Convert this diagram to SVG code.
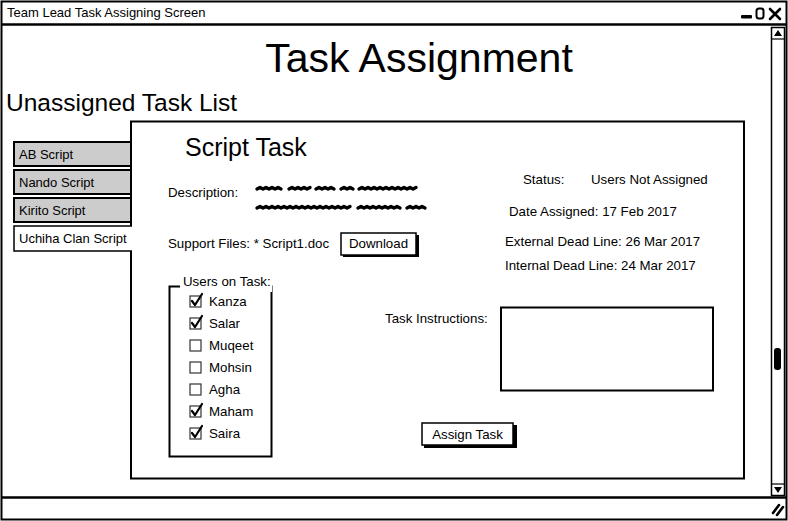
<svg xmlns="http://www.w3.org/2000/svg" width="788" height="521" viewBox="0 0 788 521">
<style>
text{font-family:"Liberation Sans","DejaVu Sans",sans-serif;fill:#000}
.t13{font-size:13px}
.t12{font-size:13.3px}
.ln{fill:none;stroke:#000;stroke-width:2}
.tab{fill:#cccccc;stroke:#000;stroke-width:2}
.cb{fill:#fff;stroke:#333;stroke-width:1.2}
.ck{fill:none;stroke:#000;stroke-width:2.2;stroke-linecap:round;stroke-linejoin:round}
.sq{fill:none;stroke:#000;stroke-width:3.4;stroke-linecap:round;stroke-linejoin:round}
</style>
<rect x="0" y="0" width="788" height="521" fill="#fff"/>
<g id="window">
<rect x="1.5" y="1.5" width="785" height="518" class="ln"/>
<line x1="1" y1="24.5" x2="787" y2="24.5" stroke="#000" stroke-width="2.5"/>
<text x="7" y="17" class="t13">Team Lead Task Assigning Screen</text>
<rect x="741" y="15" width="11" height="3.5" fill="#000" rx="1"/>
<rect x="756.5" y="8.5" width="7" height="10" rx="2.5" fill="none" stroke="#000" stroke-width="2"/>
<path d="M770 9 L780 19 M780 9 L770 19" stroke="#000" stroke-width="2.6" stroke-linecap="round"/>
<line x1="1" y1="497.5" x2="787" y2="497.5" stroke="#000" stroke-width="2.5"/>
<path d="M773 513 L779 505 M777 515 L783 507" stroke="#000" stroke-width="2.6" stroke-linecap="round"/>
</g>
<g id="scrollbar">
<rect x="771.5" y="27.5" width="13" height="468" fill="#fff" stroke="#000" stroke-width="1.5"/>
<line x1="771.5" y1="39" x2="784.5" y2="39" stroke="#000" stroke-width="1.2"/>
<path d="M774 36 L778 30 L782 36 Z" fill="#000"/>
<line x1="771.5" y1="484" x2="784.5" y2="484" stroke="#000" stroke-width="1.2"/>
<path d="M774 487 L778 493 L782 487 Z" fill="#000"/>
<rect x="774" y="348" width="7" height="22" rx="3" fill="#000"/>
</g>
<g id="headings">
<text x="419" y="72" text-anchor="middle" style="font-size:41px">Task Assignment</text>
<text x="6" y="111" style="font-size:24.5px">Unassigned Task List</text>
</g>
<g id="tabs">
<rect x="14" y="142" width="118" height="24" class="tab"/>
<text x="19" y="159" class="t13">AB Script</text>
<rect x="14" y="170" width="118" height="24" class="tab"/>
<text x="19" y="187" class="t13">Nando Script</text>
<rect x="14" y="198" width="118" height="24" class="tab"/>
<text x="19" y="215" class="t13">Kirito Script</text>
</g>
<g id="panel">
<rect x="131" y="121.5" width="613" height="357" fill="#fff" stroke="#000" stroke-width="2"/>
</g>
<g id="tab-selected">
<path d="M132 226 L14 226 L14 251 L132 251" fill="#fff" stroke="#000" stroke-width="1.5"/>
<rect x="130" y="227" width="3" height="23" fill="#fff"/>
<text x="19" y="243" class="t13">Uchiha Clan Script</text>
</g>
<g id="details">
<text x="185" y="156" style="font-size:25px">Script Task</text>
<text x="168" y="197" class="t12">Description:</text>
<path class="sq" d="M257 189 l3 -1.5 l3 1.5 l3 -1.5 l3 1.5 l3 -1.5 l3 1.5 l3 -1.5 l3 1.5
M289 189 l3 -1.5 l3 1.5 l3 -1.5 l3 1.5 l3 -1.5 l3 1.5 l3 -1.5
M316 189 l3 -1.5 l3 1.5 l3 -1.5 l3 1.5 l3 -1.5 l3 1.5
M341 189 l3 -1.5 l3 1.5 l3 -1.5 l3 1.5
M359 189 l3 -1.5 l3 1.5 l3 -1.5 l3 1.5 l3 -1.5 l3 1.5 l3 -1.5 l3 1.5 l3 -1.5 l3 1.5 l3 -1.5 l3 1.5 l3 -1.5 l3 1.5 l3 -1.5 l3 1.5 l3 -1.5 l3 1.5 l3 -1.5"/>
<path class="sq" d="M257 208 l3 -1.5 l3 1.5 l3 -1.5 l3 1.5 l3 -1.5 l3 1.5 l3 -1.5 l3 1.5 l3 -1.5 l3 1.5 l3 -1.5 l3 1.5 l3 -1.5 l3 1.5 l3 -1.5 l3 1.5 l3 -1.5 l3 1.5 l3 -1.5 l3 1.5 l3 -1.5 l3 1.5 l3 -1.5 l3 1.5 l3 -1.5 l3 1.5 l3 -1.5 l3 1.5 l3 -1.5 l3 1.5 l3 -1.5
M358 208 l3 -1.5 l3 1.5 l3 -1.5 l3 1.5 l3 -1.5 l3 1.5 l3 -1.5 l3 1.5 l3 -1.5 l3 1.5 l3 -1.5 l3 1.5 l3 -1.5 l3 1.5
M407 208 l3 -1.5 l3 1.5 l3 -1.5 l3 1.5 l3 -1.5 l3 1.5"/>
<text x="168" y="248" class="t12">Support Files: * Script1.doc</text>
</g>
<g id="download-btn">
<rect x="343" y="235" width="76" height="22" fill="#000"/>
<rect x="341" y="233" width="75" height="22" fill="#fff" stroke="#000" stroke-width="1.5"/>
<text x="378.5" y="248" text-anchor="middle" class="t12">Download</text>
</g>
<g id="status">
<text x="523" y="184" class="t12">Status:</text>
<text x="591" y="184" class="t12">Users Not Assigned</text>
<text x="509" y="216" class="t12">Date Assigned:  17 Feb 2017</text>
<text x="505" y="246" class="t12">External Dead Line: 26 Mar 2017</text>
<text x="505" y="270" class="t12">Internal Dead Line: 24 Mar 2017</text>
</g>
<g id="users">
<rect x="169.5" y="286.5" width="102" height="170" fill="#fff" stroke="#000" stroke-width="2"/>
<rect x="180" y="278" width="92" height="14" fill="#fff"/>
<text x="183" y="286" class="t12">Users on Task:</text>
<rect x="190" y="296" width="11" height="11" class="cb"/><path d="M192 301 L195 305 L202 294" class="ck"/><text x="209" y="306" class="t12">Kanza</text>
<rect x="190" y="318" width="11" height="11" class="cb"/><path d="M192 323 L195 327 L202 316" class="ck"/><text x="209" y="328" class="t12">Salar</text>
<rect x="190" y="340" width="11" height="11" class="cb"/><text x="209" y="350" class="t12">Muqeet</text>
<rect x="190" y="362" width="11" height="11" class="cb"/><text x="209" y="372" class="t12">Mohsin</text>
<rect x="190" y="384" width="11" height="11" class="cb"/><text x="209" y="394" class="t12">Agha</text>
<rect x="190" y="406" width="11" height="11" class="cb"/><path d="M192 411 L195 415 L202 404" class="ck"/><text x="209" y="416" class="t12">Maham</text>
<rect x="190" y="428" width="11" height="11" class="cb"/><path d="M192 433 L195 437 L202 426" class="ck"/><text x="209" y="438" class="t12">Saira</text>
</g>
<g id="instructions">
<text x="385" y="323" class="t12">Task Instructions:</text>
<rect x="501" y="307.5" width="212" height="83" fill="#fff" stroke="#000" stroke-width="2"/>
</g>
<g id="assign-btn">
<rect x="424" y="425" width="93" height="23" fill="#000"/>
<rect x="422" y="423" width="91" height="22" fill="#fff" stroke="#000" stroke-width="1.5"/>
<text x="467.5" y="439" text-anchor="middle" class="t12">Assign Task</text>
</g>
</svg>
